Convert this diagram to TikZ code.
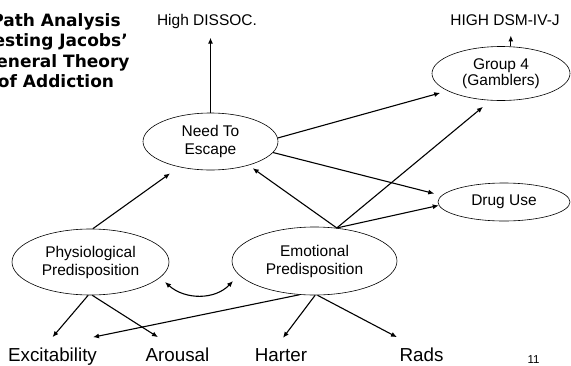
\documentclass[tikz,border=0pt]{standalone}
\usepackage{fontspec}
\setmainfont{Liberation Sans}
\newfontfamily\titlefont{DejaVu Sans}
\usetikzlibrary{shapes.geometric,arrows.meta,calc}
\begin{document}
\begin{tikzpicture}[x=1pt,y=-1pt,
  oval/.style={ellipse,draw,line width=0.6pt,inner sep=0pt,align=center,font=\fontsize{15.5}{18}\selectfont},
  arr/.style={line width=1.1pt,-{Latex[length=6pt,width=5pt]}},
  dblarr/.style={line width=1.1pt,{Latex[length=6pt,width=5pt]}-{Latex[length=6pt,width=5pt]}},
  lbl/.style={inner sep=0pt,font=\fontsize{15.5}{18}\selectfont},
  big/.style={inner sep=0pt,inner ysep=10pt,font=\fontsize{18.8}{22}\selectfont}
]
\useasboundingbox (0,0) rectangle (571,365);

% title (clipped at left edge)
\node[align=center,inner sep=0pt,anchor=north,font=\titlefont\bfseries\fontsize{17}{20.4}\selectfont] (title) at (56,13.2) {Path Analysis\\Testing Jacobs’\\General Theory\\of Addiction};

% ellipses
\node[oval,minimum width=135pt,minimum height=57pt] (esc) at (210.5,141.5) {Need To\\Escape};
\node[oval,minimum width=138pt,minimum height=54pt,font=\fontsize{15.5}{15.5}\selectfont] (g4) at (501,73.5) {Group 4\\(Gamblers)};
\node[oval,minimum width=132pt,minimum height=38pt] (drug) at (504,202) {Drug Use};
\node[oval,minimum width=165pt,minimum height=68pt] (emo) at (314.5,261) {Emotional\\Predisposition};
\node[oval,minimum width=157pt,minimum height=66pt] (phys) at (90.5,262) {Physiological\\Predisposition};

% labels
\node[lbl,anchor=base] (dissoc) at (207,25) {High DISSOC.};
\node[lbl,anchor=base] (dsm) at (505,25) {HIGH DSM-IV-J};
\node[big,anchor=base] (exc) at (52.5,361) {Excitability};
\node[big,anchor=base] (arousal) at (177.5,361) {Arousal};
\node[big,anchor=base] (harter) at (281,361) {Harter};
\node[big,anchor=base] (rads) at (421.5,361) {Rads};
\node[inner sep=0pt,anchor=base,font=\fontsize{11.5}{12}\selectfont] (pg) at (533.5,363) {11};

% connectors
\draw[arr] (esc.north) -- ++(0,-75);
\draw[arr] (g4.70) -- ++(0,-11);
\draw[arr,shorten >=7.6pt] (esc.3) -- (g4.198);
\draw[arr,shorten >=7.6pt] (esc.-10) -- (drug.174);
\draw[arr,shorten >=10pt] (emo.56) -- (g4.249);
\draw[arr,shorten >=5pt] (emo.56) -- (esc.-32);
\draw[arr] (emo.56) -- (drug.183);
\draw[arr,shorten >=11pt] (phys.86) -- (esc.219);

\draw[arr] (phys.-94) -- (exc.north);
\draw[arr] (phys.-87) -- ([xshift=-19.5pt]arousal.north);
\draw[arr] (emo.246) -- ([xshift=40.5pt]exc.north);
\draw[arr] (emo.-89) -- ([xshift=2pt]harter.north);
\draw[arr] (emo.-85) -- ([xshift=-24.5pt]rads.north);

\path (phys.center) ++(74.5,20) coordinate (cl);
\path (emo.center) ++(-81.5,20) coordinate (cr);
\draw[dblarr] (cl) .. controls ($(cl)+(20,18)$) and ($(cr)+(-18,19)$) .. (cr);
\end{tikzpicture}
\end{document}
